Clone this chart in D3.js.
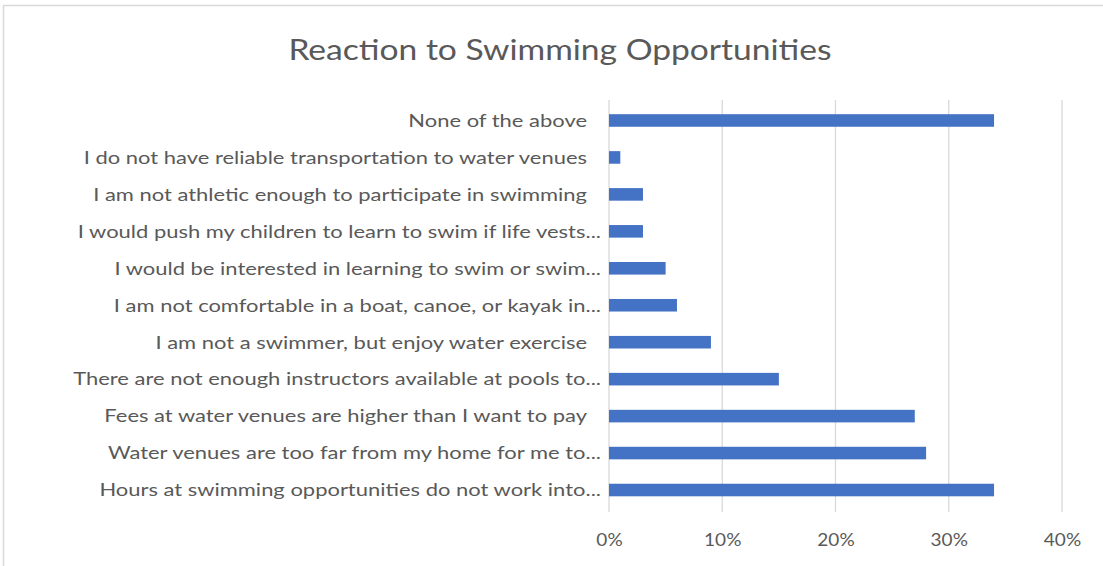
<!DOCTYPE html>
<html>
<head>
<meta charset="utf-8">
<script src="https://cdn.jsdelivr.net/npm/d3@7"></script>
<style>
  html, body { margin: 0; padding: 0; background: #fff; }
  svg { display: block; }
</style>
</head>
<body>
<svg id="chart" width="1103" height="566"></svg>
<script>
// Data (top to bottom as displayed)
const categories = [
  "None of the above",
  "I do not have reliable transportation to water venues",
  "I am not athletic enough to participate in swimming",
  "I would push my children to learn to swim if life vests...",
  "I would be interested in learning to swim or swim...",
  "I am not comfortable in a boat, canoe, or kayak in...",
  "I am not a swimmer, but enjoy water exercise",
  "There are not enough instructors available at pools to...",
  "Fees at water venues are higher than I want to pay",
  "Water venues are too far from my home for me to...",
  "Hours at swimming opportunities do not work into..."
];
const values = [0.34, 0.01, 0.03, 0.03, 0.05, 0.06, 0.09, 0.15, 0.27, 0.28, 0.34];
const xTicks = [0, 0.1, 0.2, 0.3, 0.4];
const title = "Reaction to Swimming Opportunities";

const svg = d3.select("#chart");
const font = "Lato, 'Open Sans', sans-serif";
const textColor = "#595959";

// chart area border
svg.append("rect")
  .attr("x", 3.5).attr("y", 5.5)
  .attr("width", 1110).attr("height", 600)
  .attr("fill", "none").attr("stroke", "#d9d9d9").attr("stroke-width", 1.5);

const x = d3.scaleLinear().domain([0, 0.4]).range([609, 1062]);
const y = d3.scaleBand().domain(categories).range([102, 508.5]).paddingInner(0.66).paddingOuter(0.33);

// Title
svg.append("text")
  .attr("transform", "translate(560,60) scale(1.2,1)")
  .attr("text-anchor", "middle")
  .attr("font-family", font).attr("font-size", 28)
  .attr("fill", textColor)
  .text(title);

// Gridlines
svg.append("g").selectAll("line")
  .data(xTicks)
  .join("line")
  .attr("x1", d => x(d)).attr("x2", d => x(d))
  .attr("y1", 100).attr("y2", 512)
  .attr("stroke", "#d9d9d9").attr("stroke-width", 1.3);

// X axis labels
const xAxis = d3.axisBottom(x).tickValues(xTicks).tickFormat(d3.format(".0%")).tickSize(0);
const gx = svg.append("g").attr("transform", "translate(0,515)").call(xAxis);
gx.select(".domain").remove();
gx.selectAll("text")
  .attr("dy", 0).attr("y", 0)
  .attr("transform", "translate(0,31) scale(1.12,1)")
  .attr("font-family", font).attr("font-size", 17)
  .attr("fill", textColor);

// Bars
svg.append("g").selectAll("rect")
  .data(values)
  .join("rect")
  .attr("x", x(0))
  .attr("y", (d, i) => y(categories[i]))
  .attr("width", d => x(d) - x(0))
  .attr("height", y.bandwidth())
  .attr("fill", "#4472C4");

// Category labels
const yAxis = d3.axisLeft(y).tickSize(0);
const gy = svg.append("g").call(yAxis);
gy.select(".domain").remove();
gy.selectAll("text")
  .attr("x", 0)
  .attr("transform", d => `translate(${d.endsWith("...") ? 601 : 587},0) scale(1.22,1)`)
  .attr("dy", "0.35em")
  .attr("font-family", font).attr("font-size", 18)
  .attr("fill", textColor);
</script>
</body>
</html>
